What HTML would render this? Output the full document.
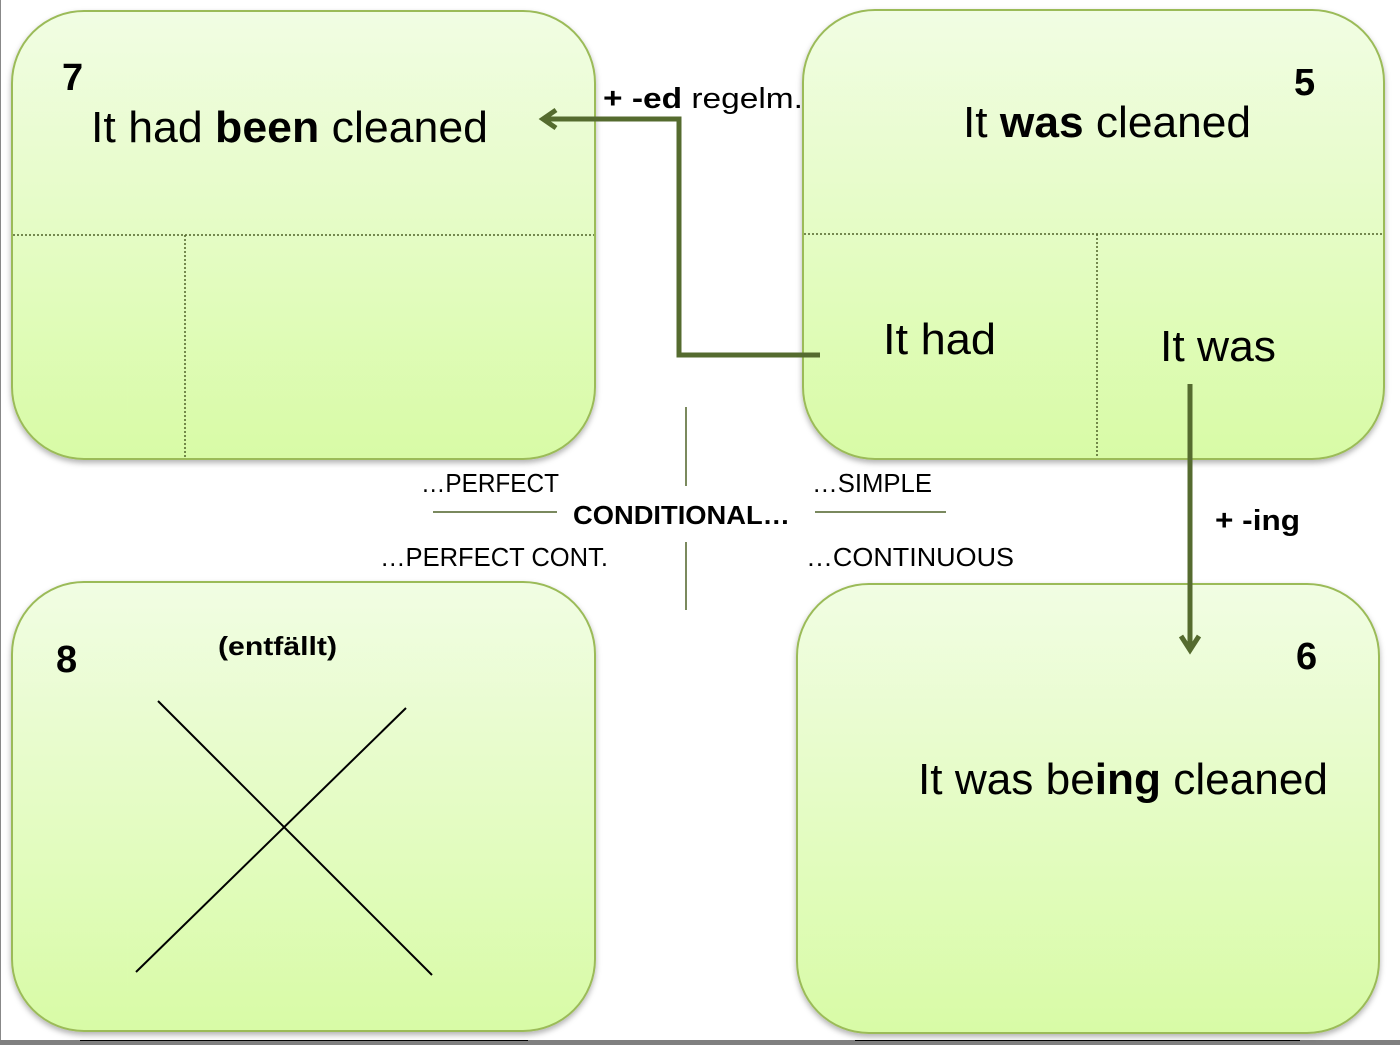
<!DOCTYPE html>
<html><head><meta charset="utf-8"><style>html,body{margin:0;padding:0;background:#fff}svg{display:block}</style></head>
<body>
<svg width="1400" height="1045" viewBox="0 0 1400 1045" xmlns="http://www.w3.org/2000/svg" font-family="Liberation Sans, sans-serif">
<defs>
<linearGradient id="g" x1="0" y1="0" x2="0" y2="1"><stop offset="0" stop-color="#f1fde3"/><stop offset="1" stop-color="#d8fba6"/></linearGradient>
<filter id="s" x="-5%" y="-5%" width="110%" height="110%"><feDropShadow dx="0" dy="3" stdDeviation="3" flood-color="#000" flood-opacity="0.3"/></filter>
</defs>
<rect x="0" y="0" width="1400" height="1045" fill="#fff"/>
<line x1="0.5" y1="0" x2="0.5" y2="1040" stroke="#888"/>
<rect x="0" y="1040" width="1400" height="5" fill="#808080"/>
<line x1="80" y1="1040.5" x2="528" y2="1040.5" stroke="#000"/>
<line x1="855" y1="1040.5" x2="1300" y2="1040.5" stroke="#000"/>
<g fill="url(#g)" stroke="#9bbb59" stroke-width="2" filter="url(#s)">
<rect x="12" y="11" width="583" height="448" rx="72"/>
<rect x="803" y="10" width="581" height="449" rx="72"/>
<rect x="12" y="582" width="583" height="449" rx="72"/>
<rect x="797" y="584" width="582" height="449" rx="72"/>
</g>
<g stroke="#4f6228" stroke-width="1.5" stroke-dasharray="2,2">
<line x1="13" y1="235" x2="594" y2="235"/><line x1="185" y1="235" x2="185" y2="458"/>
<line x1="804" y1="234" x2="1383" y2="234"/><line x1="1097" y1="234" x2="1097" y2="458"/>
</g>
<g stroke="#4f6228" stroke-width="1.5">
<line x1="686" y1="407" x2="686" y2="486"/><line x1="686" y1="542" x2="686" y2="610"/>
<line x1="433" y1="512" x2="557" y2="512"/><line x1="815" y1="512" x2="946" y2="512"/>
</g>
<g fill="none" stroke="#556b2f" stroke-width="5">
<polyline points="820,355 679,355 679,119 545,119"/>
<polyline points="556,110 543,119 556,128"/>
<line x1="1190" y1="384" x2="1190" y2="648"/>
<polyline points="1181,636 1190,650 1199,636"/>
</g>
<g stroke="#000" stroke-width="2"><line x1="158" y1="701" x2="432" y2="975"/><line x1="406" y1="708" x2="136" y2="972"/></g>
<g fill="#000">
<text x="62" y="90" font-size="38" font-weight="bold">7</text>
<text x="91" y="142" font-size="44" textLength="397" lengthAdjust="spacingAndGlyphs">It had <tspan font-weight="bold">been</tspan> cleaned</text>
<text x="1294" y="95" font-size="38" font-weight="bold">5</text>
<text x="963" y="137" font-size="44" textLength="288" lengthAdjust="spacingAndGlyphs">It <tspan font-weight="bold">was</tspan> cleaned</text>
<text x="603" y="108" font-size="29" textLength="200" lengthAdjust="spacingAndGlyphs"><tspan font-weight="bold">+ -ed</tspan> regelm.</text>
<text x="883" y="354" font-size="44" textLength="113" lengthAdjust="spacingAndGlyphs">It had</text>
<text x="1160" y="361" font-size="44" textLength="116" lengthAdjust="spacingAndGlyphs">It was</text>
<text x="1215" y="530" font-size="29" font-weight="bold" textLength="85" lengthAdjust="spacingAndGlyphs">+ -ing</text>
<text x="421" y="492" font-size="26" textLength="138" lengthAdjust="spacingAndGlyphs">…PERFECT</text>
<text x="812" y="492" font-size="26" textLength="120" lengthAdjust="spacingAndGlyphs">…SIMPLE</text>
<text x="573" y="524" font-size="26" font-weight="bold" textLength="217" lengthAdjust="spacingAndGlyphs">CONDITIONAL…</text>
<text x="380" y="566" font-size="26" textLength="228" lengthAdjust="spacingAndGlyphs">…PERFECT CONT.</text>
<text x="806" y="566" font-size="26" textLength="208" lengthAdjust="spacingAndGlyphs">…CONTINUOUS</text>
<text x="56" y="672" font-size="38" font-weight="bold">8</text>
<text x="218" y="655" font-size="26" font-weight="bold" textLength="119" lengthAdjust="spacingAndGlyphs">(entfällt)</text>
<text x="1296" y="669" font-size="38" font-weight="bold">6</text>
<text x="918" y="794" font-size="44" textLength="410" lengthAdjust="spacingAndGlyphs">It was be<tspan font-weight="bold">ing</tspan> cleaned</text>
</g>
</svg>
</body></html>
